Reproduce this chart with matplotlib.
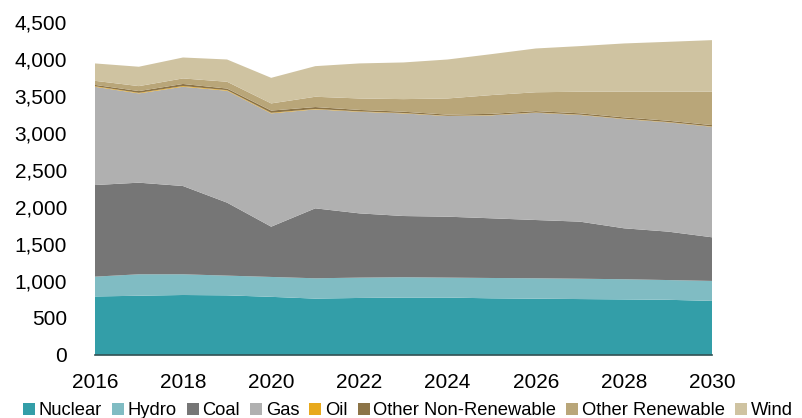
import matplotlib

matplotlib.use("Agg")
import matplotlib.pyplot as plt
from matplotlib.patches import Patch
from matplotlib.ticker import FuncFormatter

plt.rcParams["font.family"] = ["Liberation Sans", "DejaVu Sans"]

# 发电量（按能源类型，堆叠面积）
years = list(range(2016, 2031))
nuclear = [790, 800, 810, 805, 785, 761, 770, 775, 775, 765, 760, 755, 750, 745, 730]
hydro = [268, 290, 280, 267, 269, 275, 275, 275, 270, 275, 276, 275, 273, 267, 270]
coal = [1239, 1239, 1194, 987, 680, 946, 869, 828, 824, 807, 788, 772, 689, 655, 590]
gas = [1329, 1207, 1342, 1513, 1532, 1338, 1374, 1388, 1361, 1393, 1451, 1443, 1478, 1478, 1495]
oil = [8, 8, 10, 8, 8, 6, 5, 5, 4, 4, 4, 4, 4, 4, 4]
other_non_renewable = [18, 24, 28, 22, 30, 26, 20, 18, 15, 16, 18, 18, 18, 18, 18]
other_renewable = [55, 67, 75, 92, 97, 139, 155, 170, 219, 254, 255, 292, 347, 392, 452]
wind = [235, 262, 283, 301, 346, 414, 474, 496, 527, 554, 592, 617, 653, 675, 698]

labels = ["Nuclear", "Hydro", "Coal", "Gas", "Oil", "Other Non-Renewable",
          "Other Renewable", "Wind"]
colors = ["#339ea8", "#80bcc3", "#767676", "#b0b0b0", "#e8a91c", "#8c7447",
          "#b9a679", "#cfc3a1"]

figure, axis = plt.subplots(figsize=(8.03, 4.18), dpi=100)
figure.subplots_adjust(left=0.118, right=0.887, bottom=0.151, top=0.947)

axis.stackplot(
    years,
    nuclear, hydro, coal, gas, oil, other_non_renewable, other_renewable, wind,
    colors=colors, linewidth=0,
)

axis.set_xlim(2016, 2030)
axis.set_ylim(0, 4500)
axis.set_xticks(range(2016, 2031, 2))
axis.set_yticks(range(0, 4501, 500))
axis.yaxis.set_major_formatter(FuncFormatter(lambda v, _: f"{int(v):,}"))
axis.tick_params(axis="both", length=0, labelsize=15)
axis.tick_params(axis="x", pad=13)
axis.tick_params(axis="y", pad=20)

for side in ("left", "right", "top"):
    axis.spines[side].set_visible(False)
axis.spines["bottom"].set_color("#2f4f52")
axis.spines["bottom"].set_linewidth(1.2)

handles = [Patch(facecolor=c, edgecolor="none") for c in colors]
figure.legend(
    handles, labels,
    loc="lower center", bbox_to_anchor=(0.508, -0.012), ncol=8, frameon=False,
    fontsize=13.2, handlelength=0.65, handleheight=0.7, handletextpad=0.2,
    columnspacing=0.55, borderpad=0.2, borderaxespad=0,
)

figure.savefig("out.png", dpi=100)
